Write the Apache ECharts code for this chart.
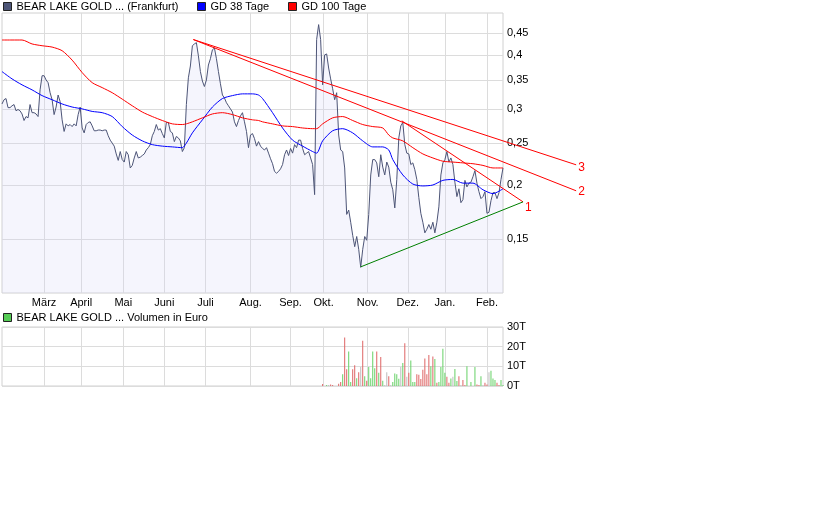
<!DOCTYPE html>
<html><head><meta charset="utf-8">
<script src="https://cdn.jsdelivr.net/npm/echarts@6/dist/echarts.min.js"></script>
<style>html,body{margin:0;padding:0;background:#fff}#c{width:840px;height:525px}</style>
</head><body><div id="c"></div><script>
// ---- data ----
const priceName = 'BEAR LAKE GOLD ... (Frankfurt)';
const volName = 'BEAR LAKE GOLD ... Volumen in Euro';
const monthTicks = [21, 39.5, 60.5, 81, 101.5, 124, 144, 160.5, 182.5, 202.5, 221, 242];
const monthNames = ['März', 'April', 'Mai', 'Juni', 'Juli', 'Aug.', 'Sep.', 'Okt.', 'Nov.', 'Dez.', 'Jan.', 'Feb.'];
const priceTicks = [0.15, 0.2, 0.25, 0.3, 0.35, 0.4, 0.45];

const price = [
0.308,0.315,0.317,0.302,0.302,0.305,0.307,0.297,0.299,0.297,
0.292,0.282,0.288,0.286,0.307,0.294,0.294,0.292,0.288,0.332,
0.358,0.358,0.350,0.345,0.327,0.315,0.291,0.303,0.323,0.312,
0.283,0.266,0.277,0.274,0.276,0.273,0.277,0.274,0.291,0.303,
0.271,0.264,0.276,0.279,0.280,0.274,0.267,0.267,0.268,0.268,
0.267,0.268,0.268,0.260,0.254,0.250,0.246,0.236,0.228,0.239,
0.229,0.226,0.239,0.235,0.219,0.222,0.231,0.239,0.231,0.232,
0.234,0.236,0.241,0.244,0.248,0.260,0.266,0.276,0.268,0.270,
0.263,0.257,0.279,0.279,0.266,0.264,0.252,0.259,0.257,0.253,
0.239,0.244,0.307,0.354,0.377,0.420,0.424,0.427,0.398,0.366,
0.348,0.338,0.350,0.379,0.392,0.411,0.415,0.392,0.366,0.343,
0.323,0.318,0.310,0.305,0.300,0.295,0.280,0.273,0.282,0.289,
0.294,0.280,0.266,0.244,0.261,0.263,0.256,0.246,0.252,0.246,
0.243,0.241,0.244,0.237,0.230,0.224,0.215,0.213,0.215,0.218,
0.223,0.235,0.241,0.234,0.243,0.237,0.248,0.244,0.254,0.254,
0.243,0.235,0.237,0.239,0.231,0.223,0.190,0.434,0.470,0.434,
0.341,0.400,0.402,0.373,0.352,0.334,0.315,0.327,0.261,0.241,
0.239,0.219,0.171,0.175,0.164,0.153,0.144,0.152,0.142,0.129,
0.142,0.152,0.149,0.171,0.211,0.229,0.229,0.225,0.209,0.235,
0.220,0.211,0.226,0.220,0.203,0.195,0.177,0.206,0.257,0.274,
0.279,0.248,0.237,0.236,0.223,0.225,0.217,0.206,0.187,0.172,
0.164,0.155,0.158,0.162,0.158,0.164,0.155,0.164,0.178,0.211,
0.225,0.229,0.239,0.226,0.231,0.223,0.203,0.188,0.196,0.182,
0.185,0.205,0.198,0.202,0.203,0.209,0.216,0.202,0.193,0.186,
0.188,0.193,0.172,0.173,0.184,0.192,0.192,0.186,0.192,0.206,
0.219];

const maIdx = [0,5,10,15,20,25,30,35,40,45,50,55,60,65,70,75,80,85,90,92,95,100,105,110,115,120,125,128,130,135,140,145,150,155,157,160,165,170,175,180,185,190,193,195,200,205,210,215,220,225,230,235,240,245,250];
const gd38 = [0.366,0.352,0.341,0.332,0.322,0.315,0.308,0.303,0.300,0.296,0.294,0.288,0.273,0.261,0.253,0.248,0.246,0.245,0.244,0.250,0.264,0.283,0.303,0.317,0.322,0.325,0.325,0.323,0.317,0.294,0.271,0.254,0.246,0.239,0.237,0.253,0.267,0.270,0.264,0.253,0.245,0.245,0.241,0.229,0.211,0.201,0.199,0.200,0.205,0.206,0.202,0.202,0.195,0.191,0.196];
const gd100 = [0.433,0.433,0.433,0.424,0.420,0.417,0.409,0.389,0.364,0.345,0.336,0.327,0.316,0.305,0.295,0.288,0.282,0.277,0.276,0.277,0.280,0.286,0.292,0.294,0.291,0.286,0.283,0.282,0.280,0.277,0.274,0.273,0.271,0.270,0.270,0.277,0.286,0.288,0.282,0.276,0.273,0.271,0.261,0.257,0.253,0.244,0.236,0.231,0.227,0.226,0.225,0.224,0.222,0.219,0.219];

// trend lines: [startIndex, startValue, endIndex, endValue]
const trend1 = [199.5, 0.2815, 260, 0.1828];
const trend2 = [95.5, 0.434, 286.5, 0.1939];
const trend3 = [95.5, 0.434, 286.5, 0.2227];
const support = [179, 0.1293, 260, 0.1828];

const volStart = 160;
const volK = [1.0,0,0.5,0.5,0.8,0.5,0,0,1.2,2.0,
6,24.7,8.5,17.5,2,8.5,10.5,4,7,9.7,
23,5,2.7,9.7,4,17.5,9,17.5,6.7,14.7,
2.7,0.5,7,5,0.5,2,6.3,6,3.7,9.7,
11.7,21.7,4.7,6.7,13,2,2,6,5.7,3.5,
8.3,14,6,15.7,10,15,13.7,1.7,2,9.7,
19,6.7,4.7,1.7,3.8,4.7,8.7,2.5,5,0.5,
3,0.5,10,0,2,0,9.7,0.7,0.5,5,
0.5,1.7,0.7,7,7.7,3.8,3,1.7,0.5,3,
0.5];
const volDir = 'dnunddnndd' + 'udduuddudn' + 'duduuuudud' + 'unndnuuuun' + 'udnduuuddd' + 'ddddududuu' + 'uuddunuudn' + 'ddununuddu' + 'nddnuuuddu' + 'u';

// ---- chart ----
const L = v => Math.log10(v);
const FONT = '"Liberation Sans", Arial, sans-serif';
const dirColor = { u: '#66d166', d: '#de6464', n: '#bdbdbd' };
const gridColor = '#dcdcdc';
const PLOT_LEFT = 2, PLOT_W = 501, OVER_W = 598, X_MAX = 250;
const yMin = L(0.1125), yMax = L(0.5);

function trendSeries(t, color, label, off) {
  const s = {
    type: 'line', xAxisIndex: 2, yAxisIndex: 2, symbol: 'none', z: 5, silent: true,
    data: [[t[0], L(t[1])], [t[2], L(t[3])]],
    lineStyle: { color: color, width: 1 }
  };
  if (label) {
    s.endLabel = { show: true, formatter: label, color: '#ff0000', fontSize: 12, fontFamily: FONT, distance: 2, offset: off };
  }
  return s;
}

const legendBase = {
  orient: 'horizontal', padding: 0, icon: 'rect', itemWidth: 8, itemHeight: 8,
  selectedMode: false, textStyle: { fontSize: 11, fontFamily: FONT, color: '#000' },
  itemStyle: { borderColor: '#222', borderWidth: 1 }
};

const chart = echarts.init(document.getElementById('c'), null, { renderer: 'canvas' });
chart.setOption({
  animation: false,
  backgroundColor: '#fff',
  legend: [
    Object.assign({}, legendBase, { data: [priceName], left: 3, top: 1 }),
    Object.assign({}, legendBase, { data: ['GD 38 Tage'], left: 197, top: 1 }),
    Object.assign({}, legendBase, { data: ['GD 100 Tage'], left: 288, top: 1 }),
    Object.assign({}, legendBase, { data: [volName], left: 3, top: 312 })
  ],
  grid: [
    { left: PLOT_LEFT, width: PLOT_W, top: 13, height: 280, show: true, borderColor: '#d0d0d0', borderWidth: 1 },
    { left: PLOT_LEFT, width: PLOT_W, top: 327, height: 59, show: true, borderColor: '#d0d0d0', borderWidth: 1 },
    { left: PLOT_LEFT, width: OVER_W, top: 13, height: 280, show: false }
  ],
  xAxis: [
    { type: 'value', gridIndex: 0, min: 0, max: X_MAX,
      axisLine: { show: false }, axisTick: { show: false, customValues: monthTicks },
      axisLabel: { customValues: monthTicks, margin: 4, fontSize: 11, fontFamily: FONT, color: '#000',
        formatter: v => monthNames[monthTicks.indexOf(v)] || '' },
      splitLine: { show: true, lineStyle: { color: gridColor, width: 1 } } },
    { type: 'value', gridIndex: 1, min: 0, max: X_MAX,
      axisLine: { show: false }, axisTick: { show: false, customValues: monthTicks },
      axisLabel: { show: false, customValues: monthTicks },
      splitLine: { show: true, lineStyle: { color: gridColor, width: 1 } } },
    { type: 'value', gridIndex: 2, min: 0, max: X_MAX * OVER_W / PLOT_W, show: false }
  ],
  yAxis: [
    { type: 'value', gridIndex: 0, position: 'right', min: yMin, max: yMax,
      axisLine: { show: false }, axisTick: { show: false, customValues: priceTicks.map(L) },
      axisLabel: { customValues: priceTicks.map(L), margin: 4, fontSize: 11, fontFamily: FONT, color: '#000',
        formatter: v => String(+Math.pow(10, v).toFixed(2)).replace('.', ',') },
      splitLine: { show: true, lineStyle: { color: gridColor, width: 1 } } },
    { type: 'value', gridIndex: 1, position: 'right', min: 0, max: 30000, interval: 10000,
      axisLine: { show: false }, axisTick: { show: false },
      axisLabel: { margin: 4, fontSize: 11, fontFamily: FONT, color: '#000', formatter: v => (v / 1000) + 'T' },
      splitLine: { show: true, lineStyle: { color: gridColor, width: 1 } } },
    { type: 'value', gridIndex: 2, min: yMin, max: yMax, show: false }
  ],
  series: [
    { name: priceName, type: 'line', xAxisIndex: 0, yAxisIndex: 0, symbol: 'none', z: 3,
      color: '#4d5577',
      data: price.map((v, i) => [i, L(v)]),
      lineStyle: { color: '#4d5577', width: 1 },
      areaStyle: { color: 'rgba(210,210,245,0.33)', origin: 'start' } },
    { name: 'GD 38 Tage', type: 'line', xAxisIndex: 0, yAxisIndex: 0, symbol: 'none', z: 4, smooth: 0.25,
      color: '#0000ff',
      data: maIdx.map((x, k) => [x, L(gd38[k])]),
      lineStyle: { color: '#0000ff', width: 1 } },
    { name: 'GD 100 Tage', type: 'line', xAxisIndex: 0, yAxisIndex: 0, symbol: 'none', z: 4, smooth: 0.25,
      color: '#ff0000',
      data: maIdx.map((x, k) => [x, L(gd100[k])]),
      lineStyle: { color: '#ff0000', width: 1 } },
    trendSeries(trend3, '#ff0000', '3', [0, 3]),
    trendSeries(trend2, '#ff0000', '2', [0, 1]),
    trendSeries(trend1, '#ff0000', '1', [0, 6]),
    trendSeries(support, '#008000', null),
    { name: volName, type: 'bar', xAxisIndex: 1, yAxisIndex: 1, barWidth: 1,
      color: '#55cc55',
      data: volK.map((v, k) => ({ value: [volStart + k, v * 1000], itemStyle: { color: dirColor[volDir[k]] } })) }
  ]
});
</script></body></html>
